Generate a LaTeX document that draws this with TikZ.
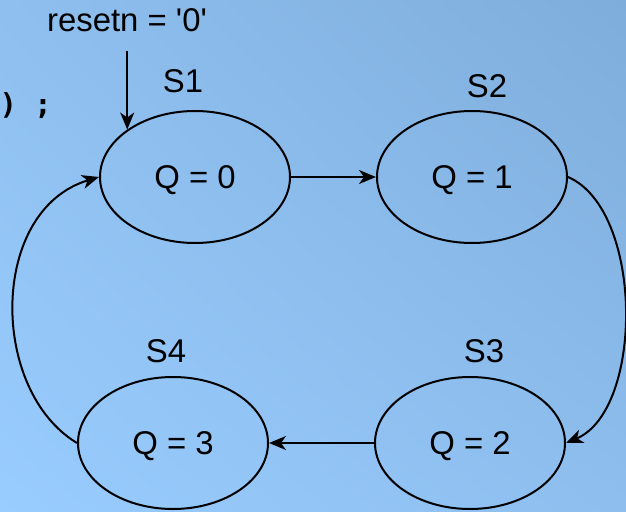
\documentclass[tikz,border=0pt]{standalone}
\usepackage{fontspec}
\setmainfont{Liberation Sans}
\newfontfamily\codefont{DejaVu Sans Mono}
\usetikzlibrary{shapes.geometric,arrows.meta,shadings}
\definecolor{bgUR}{HTML}{7FADDB}
\definecolor{bgLL}{HTML}{99CCFF}
\definecolor{bgUL}{HTML}{8EBFEE}
\definecolor{bgLR}{HTML}{8DBEEE}
\tikzset{
  state/.style={ellipse, draw=black, line width=2bp, minimum width=190bp, minimum height=132bp,
    inner sep=0pt, font=\fontsize{33}{33}\selectfont, text height=23bp, text depth=0bp},
  slabel/.style={anchor=base, inner sep=0pt, font=\fontsize{33}{33}\selectfont},
  conn/.style={line width=2bp, -{Stealth[length=17bp,width=14bp,inset=5bp]}},
}
\begin{document}
\begin{tikzpicture}[x=1bp,y=-1bp]
\useasboundingbox (0,0) rectangle (626,512);
\shade[upper left=bgUL, upper right=bgUR, lower left=bgLL, lower right=bgLR] (0,0) rectangle (626,512);
\node[anchor=base west, inner sep=0pt, font=\codefont\bfseries\fontsize{29}{29}\selectfont] (code) at (-0.5,115) {) ;};
\node[state] (S1) at (195,177) {Q = 0};
\node[state] (S2) at (472,177) {Q = 1};
\node[state] (S3) at (470,443) {Q = 2};
\node[state] (S4) at (173,443) {Q = 3};
\node[slabel] (L1) at (183,93) {S1};
\node[slabel] (L2) at (487,98) {S2};
\node[slabel] (L3) at (484,362) {S3};
\node[slabel] (L4) at (166,362) {S4};
\node[slabel] (rst) at (127,32) {resetn = \textquotesingle0\textquotesingle};
\coordinate (rtop) at (S1.145 |- 0,51);
\draw[conn] (rtop) -- (S1.145);
\draw[conn] (S1) -- (S2);
\draw[conn] (S2.east) .. controls +(76,33) and +(78,-33) .. (S3.east);
\draw[conn] (S3) -- (S4);
\draw[conn] (S4.west) .. controls +(-88,-53) and +(-110,33) .. (S1.west);
\end{tikzpicture}
\end{document}
